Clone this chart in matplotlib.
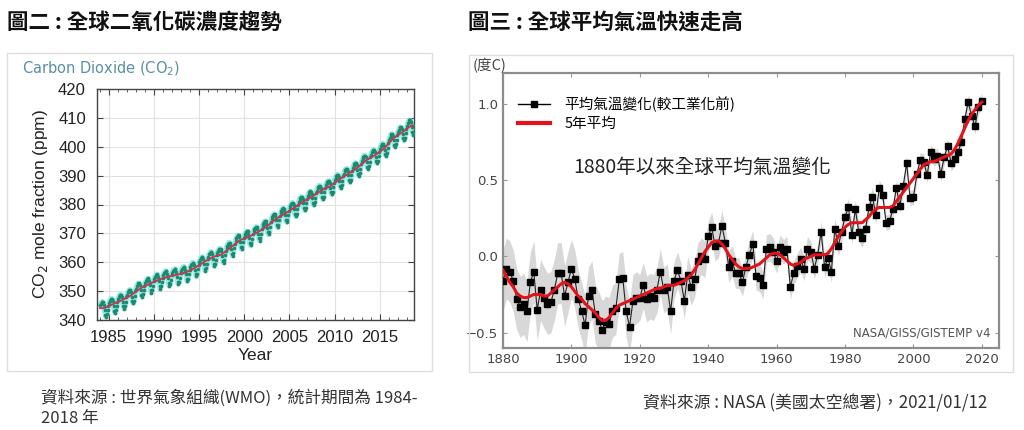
import numpy as np
import matplotlib
matplotlib.use('Agg')
import matplotlib.pyplot as plt
from matplotlib.lines import Line2D
from matplotlib.patches import Rectangle
from matplotlib.ticker import MultipleLocator

plt.rcParams['font.family'] = ['Noto Sans CJK TC', 'DejaVu Sans']

# ---------------- data: CO2 (WMO) ----------------
co2_years = list(range(1984, 2019))
co2_annual = [344.1, 345.5, 346.9, 348.6, 351.0, 352.5, 353.9, 355.0, 355.6, 356.4,
              358.0, 360.0, 361.8, 362.7, 365.1, 367.6, 368.8, 370.4, 372.4, 375.0,
              376.8, 378.8, 380.9, 382.7, 384.8, 386.3, 388.6, 390.6, 392.6, 395.3,
              397.1, 399.4, 402.9, 405.0, 407.4]
co2_seasonal = [1.0, 1.6, 2.0, 2.2, 2.0, 1.1, -0.6, -2.4, -3.3, -2.6, -1.2, 0.2]
co2_xticks = [1985, 1990, 1995, 2000, 2005, 2010, 2015]
co2_yticks = [340, 350, 360, 370, 380, 390, 400, 410, 420]

# ---------------- data: GISTEMP v4 ----------------
temp_years = list(range(1880, 2021))
temp_annual = [
    -0.16, -0.08, -0.10, -0.16, -0.28, -0.33, -0.31, -0.36, -0.17, -0.10,
    -0.35, -0.22, -0.27, -0.31, -0.30, -0.22, -0.11, -0.11, -0.26, -0.17,
    -0.08, -0.15, -0.28, -0.36, -0.45, -0.26, -0.22, -0.38, -0.42, -0.48,
    -0.43, -0.44, -0.36, -0.34, -0.15, -0.14, -0.36, -0.46, -0.29, -0.27,
    -0.27, -0.19, -0.28, -0.26, -0.27, -0.22, -0.10, -0.22, -0.20, -0.36,
    -0.16, -0.09, -0.16, -0.29, -0.12, -0.20, -0.15, -0.03, -0.00, -0.02,
    0.13, 0.19, 0.07, 0.09, 0.20, 0.09, -0.07, -0.03, -0.11, -0.11,
    -0.17, -0.07, 0.01, 0.08, -0.13, -0.14, -0.19, 0.05, 0.06, 0.03,
    -0.03, 0.06, 0.03, 0.05, -0.20, -0.11, -0.06, -0.02, -0.08, 0.05,
    0.03, -0.08, 0.01, 0.16, -0.07, -0.01, -0.10, 0.18, 0.07, 0.16,
    0.26, 0.32, 0.14, 0.31, 0.16, 0.12, 0.18, 0.32, 0.39, 0.27,
    0.45, 0.40, 0.22, 0.23, 0.31, 0.45, 0.33, 0.46, 0.61, 0.38,
    0.39, 0.54, 0.63, 0.62, 0.53, 0.68, 0.64, 0.66, 0.54, 0.65,
    0.72, 0.61, 0.64, 0.68, 0.75, 0.90, 1.01, 0.92, 0.85, 0.98,
    1.02]
temp_smooth = [
    -0.09, -0.13, -0.17, -0.20, -0.24, -0.26, -0.27, -0.27, -0.26, -0.25,
    -0.25, -0.25, -0.26, -0.26, -0.24, -0.22, -0.20, -0.18, -0.17, -0.18,
    -0.20, -0.23, -0.26, -0.28, -0.31, -0.33, -0.35, -0.37, -0.40, -0.42,
    -0.42, -0.40, -0.37, -0.34, -0.32, -0.31, -0.30, -0.29, -0.28, -0.27,
    -0.26, -0.25, -0.24, -0.23, -0.22, -0.21, -0.21, -0.20, -0.19, -0.19,
    -0.19, -0.18, -0.17, -0.16, -0.14, -0.12, -0.09, -0.05, -0.01, 0.03,
    0.06, 0.09, 0.10, 0.10, 0.08, 0.05, 0.01, -0.02, -0.05, -0.07,
    -0.08, -0.08, -0.08, -0.07, -0.06, -0.05, -0.03, -0.01, 0.01, 0.02,
    0.02, 0.01, -0.01, -0.03, -0.05, -0.06, -0.05, -0.04, -0.02, -0.01,
    0.00, 0.01, 0.01, 0.01, 0.01, 0.02, 0.05, 0.09, 0.13, 0.16,
    0.19, 0.21, 0.22, 0.22, 0.22, 0.22, 0.24, 0.26, 0.29, 0.31,
    0.32, 0.32, 0.32, 0.32, 0.33, 0.36, 0.39, 0.42, 0.45, 0.48,
    0.51, 0.54, 0.57, 0.60, 0.61, 0.62, 0.62, 0.63, 0.64, 0.65,
    0.66, 0.67, 0.70, 0.74, 0.79, 0.84, 0.89, 0.93, 0.96, 0.99,
    1.01]
# uncertainty half-width per decade (1880s ... 2010s, 2020)
temp_unc_decade = [0.20, 0.20, 0.19, 0.17, 0.15, 0.12, 0.10, 0.09, 0.08, 0.07,
                   0.06, 0.05, 0.05, 0.05, 0.05]
temp_xticks = [1880, 1900, 1920, 1940, 1960, 1980, 2000, 2020]
temp_yticks = [-0.5, 0.0, 0.5, 1.0]

W, H = 1024, 430
fig = plt.figure(figsize=(W / 100, H / 100), dpi=100)
fig.patch.set_facecolor('white')


def fx(px):
    return px / W


def fy(py):
    return 1 - py / H


def box(x0, y0, x1, y1):
    fig.patches.append(Rectangle((fx(x0), fy(y1)), fx(x1) - fx(x0), fy(y0) - fy(y1),
                                 transform=fig.transFigure, fill=False,
                                 edgecolor='#dedede', lw=1.0, zorder=0))


# headings
fig.text(fx(7), fy(22), '圖二 : 全球二氧化碳濃度趨勢', fontsize=15.5, fontweight='bold',
         color='#111111', va='center', ha='left')
fig.text(fx(468), fy(22), '圖三 : 全球平均氣溫快速走高', fontsize=15.5, fontweight='bold',
         color='#111111', va='center', ha='left')

# panel boxes
box(7, 53, 432, 371)
box(469, 55, 1013, 372)

# ---------------- left: CO2 ----------------
fig.text(fx(22), fy(69), 'Carbon Dioxide (CO$_2$)', fontsize=10.5, color='#5a8fa0',
         va='center', ha='left', family=['DejaVu Sans'])

axL = fig.add_axes([fx(97), fy(320), fx(414) - fx(97), fy(89) - fy(320)])
yrs = np.array(co2_years, dtype=float)
ann = np.array(co2_annual)
months = np.arange(12)
t = (yrs[:, None] + (months[None, :] + 0.5) / 12.0).ravel()
trend = np.interp(t, yrs + 0.5, ann)
monthly = trend + np.tile(co2_seasonal, len(co2_years))

axL.plot(t, monthly, color='#7fe6e0', lw=4.0, alpha=0.8, zorder=2, solid_capstyle='round')
axL.plot(t, monthly, linestyle='none', marker='o', ms=2.6, color='#1d8a6e',
         markeredgewidth=0, zorder=3)
axL.plot(t, trend, color='#c03a55', lw=1.4, zorder=4)

axL.set_xlim(1983.7, 2018.8)
axL.set_ylim(340, 420)
axL.set_xticks(co2_xticks)
axL.set_yticks(co2_yticks)
axL.xaxis.set_minor_locator(MultipleLocator(1))
axL.grid(True, which='major', color='#e2e2e2', lw=0.8)
axL.set_axisbelow(True)
axL.tick_params(which='both', direction='in', top=True, right=True, colors='#444444',
                labelcolor='#222222', labelsize=12)
axL.tick_params(which='major', length=4)
axL.tick_params(axis='x', which='major', pad=7)
axL.tick_params(axis='y', which='major', pad=8)
axL.tick_params(which='minor', length=2)
for lab in axL.get_xticklabels() + axL.get_yticklabels():
    lab.set_family(['Liberation Sans'])
for s in axL.spines.values():
    s.set_color('#444444')
    s.set_linewidth(1.0)
axL.set_xlabel('Year', fontsize=12.5, family=['Liberation Sans'], color='#222222', labelpad=2)
axL.set_ylabel('CO$_2$ mole fraction (ppm)', fontsize=12.5, family=['Liberation Sans'],
               color='#222222', labelpad=6)

fig.text(fx(41), fy(398), '資料來源 : 世界氣象組織(WMO)，統計期間為 1984-', fontsize=12,
         color='#333333', va='center', ha='left')
fig.text(fx(41), fy(419), '2018 年', fontsize=12, color='#333333', va='center', ha='left')

# ---------------- right: temperature ----------------
fig.text(fx(473), fy(66), '(度C)', fontsize=10.5, color='#444444', va='center', ha='left')

axR = fig.add_axes([fx(503), fy(348), fx(999) - fx(503), fy(73) - fy(348)])
ty = np.array(temp_years)
ta = np.array(temp_annual)
unc = np.concatenate([np.repeat(temp_unc_decade[:-1], 10), temp_unc_decade[-1:]])
axR.fill_between(ty, ta - unc, ta + unc, color='#d8d8d8', lw=0, zorder=1)
axR.plot(ty, ta, color='#222222', lw=0.8, marker='s', ms=3.8, markerfacecolor='black',
         markeredgecolor='black', zorder=3)
axR.plot(ty, temp_smooth, color='#e3121b', lw=2.2, zorder=4)

axR.set_xlim(1880, 2025)
axR.set_ylim(-0.6, 1.2)
axR.set_xticks(temp_xticks)
axR.set_yticks(temp_yticks)
axR.set_yticklabels(['\u22120.5', '0.0', '0.5', '1.0'])
axR.tick_params(direction='in', top=True, right=True, length=3, colors='#999999',
                labelcolor='#444444', labelsize=9.5)
for lab in axR.get_xticklabels() + axR.get_yticklabels():
    lab.set_family(['DejaVu Sans'])
for s in axR.spines.values():
    s.set_color('#8c8c8c')
    s.set_linewidth(1.6)

handles = [Line2D([], [], color='black', lw=1.0, marker='s', ms=4),
           Line2D([], [], color='#e3121b', lw=3)]
axR.legend(handles, ['平均氣溫變化(較工業化前)', '5年平均'], loc='upper left',
           bbox_to_anchor=(0.018, 0.935), frameon=False, fontsize=10.5,
           handlelength=2.2, handletextpad=1.0, labelspacing=0.3, borderaxespad=0)
axR.text(0.141, 0.655, '1880年以來全球平均氣溫變化', transform=axR.transAxes, fontsize=14,
         color='#222222', va='center', ha='left')
axR.text(0.982, 0.055, 'NASA/GISS/GISTEMP v4', transform=axR.transAxes, fontsize=8.5,
         color='#555555', va='center', ha='right', family=['DejaVu Sans'])

fig.text(fx(987), fy(403), '資料來源 : NASA (美國太空總署)，2021/01/12', fontsize=12.2,
         color='#333333', va='center', ha='right')

fig.savefig('out.png', dpi=100, facecolor='white')
